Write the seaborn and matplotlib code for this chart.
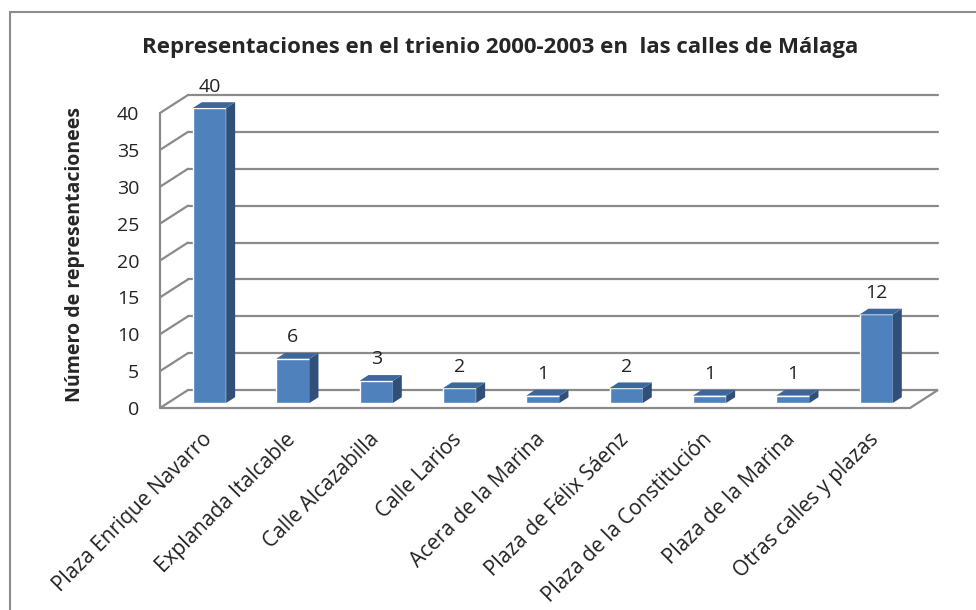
# Import Libraries
import numpy as np
import pandas as pd
import seaborn as sns
import matplotlib.pyplot as plt
from matplotlib.patches import Polygon, Rectangle

# Data
calles = ["Plaza Enrique Navarro", "Explanada Italcable", "Calle Alcazabilla",
          "Calle Larios", "Acera de la Marina", "Plaza de Félix Sáenz",
          "Plaza de la Constitución", "Plaza de la Marina", "Otras calles y plazas"]
representaciones = [40, 6, 3, 2, 1, 2, 1, 1, 12]
y_ticks = [0, 5, 10, 15, 20, 25, 30, 35, 40]

df = pd.DataFrame({"calle": calles, "n": representaciones})

# Style
sns.set_style("white")
plt.rcParams["font.family"] = ["Open Sans", "DejaVu Sans"]

front = "#4F81BD"
side = "#30507A"
top = "#3D679C"
grid_c = "#8A8A8A"

# depth of the fake 3D box, in data units (x: categories, y: values)
DX, DY = 0.336, 2.44
f0, f1 = 0.28, 0.60   # bar front / back position inside the depth

fig = plt.figure(figsize=(9.76, 6.1), dpi=100)
ax = fig.add_axes([160 / 976, 202 / 610, 750 / 976, 295 / 610])
n = len(calles)
x_lo, x_hi = -0.5, n - 0.5

# back wall gridlines and side wall diagonals
for v in y_ticks[1:]:
    ax.plot([x_lo + DX, x_hi + DX], [v + DY, v + DY], color=grid_c, lw=1.6,
            clip_on=False, zorder=1)
    ax.plot([x_lo, x_lo + DX], [v, v + DY], color=grid_c, lw=1.6,
            clip_on=False, zorder=1)
ax.plot([x_lo, x_lo], [0, y_ticks[-1]], color=grid_c, lw=1.6, clip_on=False, zorder=1)

# floor
floor = Polygon([[x_lo, 0], [x_hi, 0], [x_hi + DX, DY], [x_lo + DX, DY]],
                closed=True, facecolor="white", edgecolor=grid_c, lw=1.6,
                clip_on=False, zorder=2)
ax.add_patch(floor)

# bars (front faces)
sns.barplot(data=df, x="calle", y="n", color=front, width=0.4,
            saturation=1, ax=ax, zorder=3)
for p in ax.patches[1:]:
    p.set_x(p.get_x() + f0 * DX)
    p.set_y(f0 * DY)
    p.set_clip_on(False)

ddx, ddy = (f1 - f0) * DX, (f1 - f0) * DY
for i, v in enumerate(representaciones):
    x0 = i - 0.2 + f0 * DX
    x1 = i + 0.2 + f0 * DX
    yb = f0 * DY
    yt = yb + v
    ax.add_patch(Polygon([[x1, yb], [x1, yt], [x1 + ddx, yt + ddy], [x1 + ddx, yb + ddy]],
                         closed=True, facecolor=side, edgecolor="none",
                         clip_on=False, zorder=3))
    ax.add_patch(Polygon([[x0, yt], [x1, yt], [x1 + ddx, yt + ddy], [x0 + ddx, yt + ddy]],
                         closed=True, facecolor=top, edgecolor="none",
                         clip_on=False, zorder=3))
    ax.text(i + f0 * DX, yt + ddy + 0.9, str(v), ha="center", va="bottom",
            fontsize=14, color="#222222", zorder=4)

ax.set_xlim(x_lo, x_hi)
ax.set_ylim(0, 40)
ax.set_yticks(y_ticks)
ax.tick_params(axis="y", length=0, pad=15, labelsize=14, labelcolor="#222222")
ax.tick_params(axis="x", length=0, pad=15, labelsize=15, labelcolor="#222222")
ax.set_xticks(range(n))
ax.set_xticklabels(calles, rotation=45, ha="right", rotation_mode="anchor")
for s in ax.spines.values():
    s.set_visible(False)
ax.patch.set_visible(False)

ax.set_xlabel("")
ax.set_ylabel("Número de representacionees", fontsize=14, fontweight="bold")
ax.yaxis.set_label_coords(-0.1, 0.52)

fig.suptitle("Representaciones en el trienio 2000-2003 en  las calles de Málaga",
             x=500 / 976, y=1 - 48 / 610, va="center", fontsize=16,
             fontweight="bold")

# chart frame
fig.patches.append(Rectangle((10 / 976, -0.1), 1.2, 1.1 - 12 / 610,
                             transform=fig.transFigure, fill=False,
                             edgecolor="#8C8C8C", lw=1.5))

fig.savefig("out.png", dpi=100)
